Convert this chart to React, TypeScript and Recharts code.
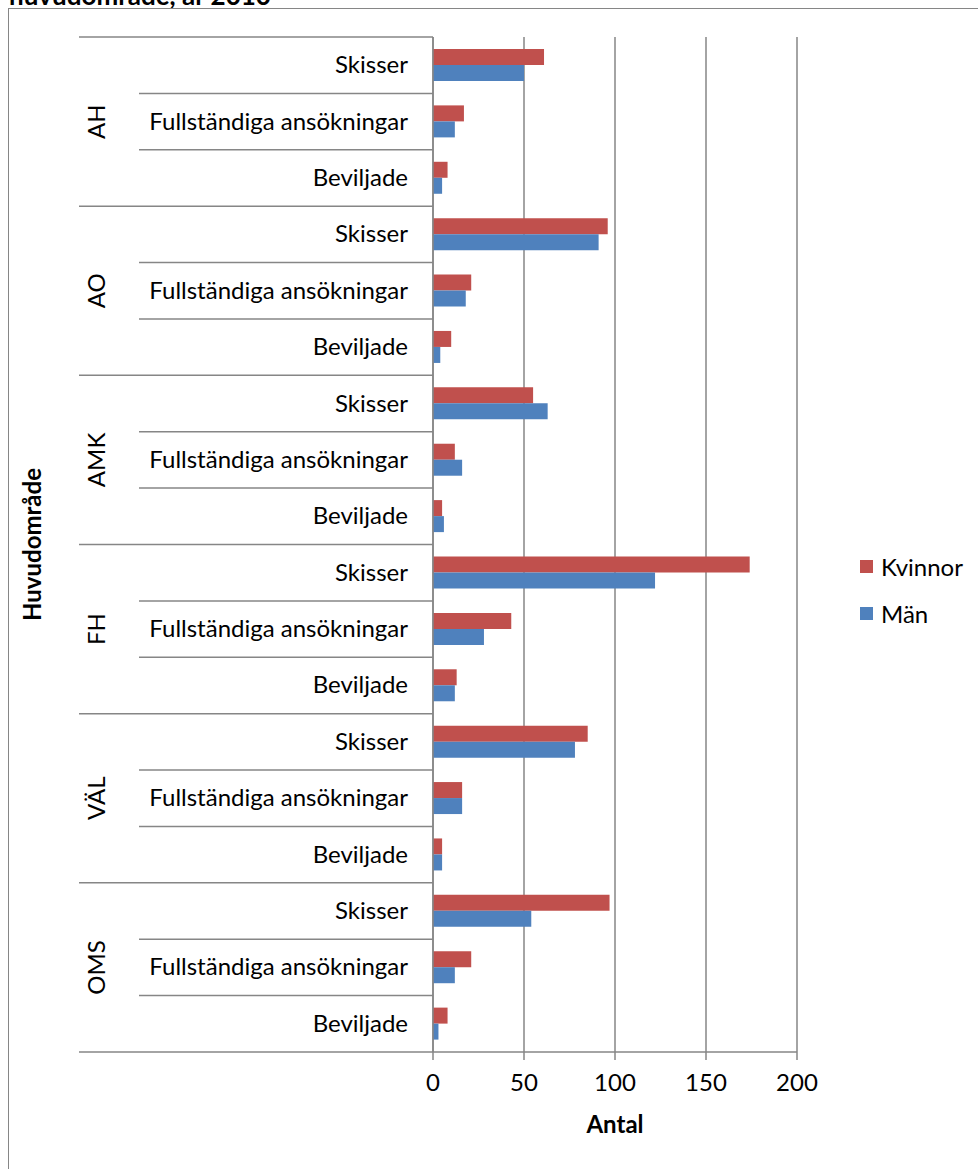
import { BarChart, Bar, XAxis, YAxis, CartesianGrid } from "recharts";

const areas = ["AH", "AO", "AMK", "FH", "VÄL", "OMS"];
const stages = ["Skisser", "Fullständiga ansökningar", "Beviljade"];
const kvinnor = [61, 17, 8, 96, 21, 10, 55, 12, 5, 174, 43, 13, 85, 16, 5, 97, 21, 8];
const man = [50, 12, 5, 91, 18, 4, 63, 16, 6, 122, 28, 12, 78, 16, 5, 54, 12, 3];
const xTicks = [0, 50, 100, 150, 200];

const data = areas.flatMap((area, a) =>
  stages.map((stage, s) => ({
    key: `${area}|${stage}`,
    area,
    stage,
    Kvinnor: kvinnor[a * 3 + s],
    Män: man[a * 3 + s],
  }))
);

const FONT = "Lato, 'Open Sans', sans-serif";
const FS = 24;
const GRAY = "#868686";
const RED = "#C0504D";
const BLUE = "#4F81BD";
const PLOT_LEFT = 433;

function CatTick(props: any) {
  const { y, payload, index } = props;
  const i = payload?.index ?? index;
  const half = payload?.offset || 28.2;
  const row = data[i];
  if (!row) return null;
  const first = i % 3 === 0;
  return (
    <g>
      <line x1={first ? 79 : 139} x2={PLOT_LEFT} y1={y - half} y2={y - half} stroke={GRAY} strokeWidth={1.5} />
      {i === data.length - 1 && (
        <line x1={79} x2={PLOT_LEFT} y1={y + half} y2={y + half} stroke={GRAY} strokeWidth={1.5} />
      )}
      <text x={408} y={y + 8} textAnchor="end" fontSize={FS} fontFamily={FONT} fill="#000">
        {row.stage}
      </text>
      {i % 3 === 1 && (
        <text
          x={97}
          y={y}
          transform={`rotate(-90 97 ${y})`}
          textAnchor="middle"
          dy={8}
          fontSize={FS}
          fontFamily={FONT}
          fill="#000"
        >
          {row.area}
        </text>
      )}
    </g>
  );
}

function NumTick(props: any) {
  const { x, payload } = props;
  return (
    <text x={x} y={1091} textAnchor="middle" fontSize={FS} fontFamily={FONT} fill="#000">
      {payload.value}
    </text>
  );
}

function LegendBox() {
  const items = [
    { name: "Kvinnor", color: RED },
    { name: "Män", color: BLUE },
  ];
  return (
    <div style={{ position: "absolute", left: 860, top: 543, fontFamily: FONT, fontSize: FS }}>
      {items.map((it) => (
        <div key={it.name} style={{ display: "flex", alignItems: "center", height: 47 }}>
          <div style={{ width: 13, height: 13, background: it.color, marginRight: 8 }} />
          <span>{it.name}</span>
        </div>
      ))}
    </div>
  );
}

export default function App() {
  return (
    <div style={{ position: "absolute", left: 0, top: 0, width: 978, height: 1169, overflow: "hidden", background: "#fff" }}>
      <div
        style={{
          position: "absolute",
          left: 9,
          top: -21,
          fontFamily: FONT,
          fontWeight: 700,
          fontSize: 26,
          whiteSpace: "nowrap",
        }}
      >
        huvudområde, år 2010
      </div>
      <div
        style={{
          position: "absolute",
          left: 8,
          top: 8,
          width: 975,
          height: 1170,
          border: `1px solid ${GRAY}`,
          boxSizing: "border-box",
        }}
      />
      <div style={{ position: "absolute", left: 0, top: 0 }}>
        <BarChart
          width={978}
          height={1169}
          data={data}
          layout="vertical"
          margin={{ top: 37, right: 181, bottom: 0, left: 0 }}
          barGap={0}
          barSize={16}
        >
          <CartesianGrid horizontal={false} stroke={GRAY} strokeWidth={1.5} strokeDasharray="" />
          <XAxis
            type="number"
            domain={[0, 200]}
            ticks={xTicks}
            height={117}
            tick={<NumTick />}
            tickSize={8}
            tickLine={{ stroke: GRAY, strokeWidth: 1.5 }}
            axisLine={{ stroke: GRAY, strokeWidth: 1.5 }}
            label={{
              value: "Antal",
              position: "insideTop",
              offset: 64,
              fontSize: FS,
              fontWeight: 700,
              fontFamily: FONT,
              fill: "#000",
            }}
          />
          <YAxis
            type="category"
            dataKey="key"
            width={433}
            interval={0}
            tick={<CatTick />}
            tickLine={false}
            axisLine={{ stroke: GRAY, strokeWidth: 1.5 }}
            label={{
              content: (p: any) => {
                const vb = p.viewBox || {};
                const cy = (vb.y ?? 37) + (vb.height ?? 1015) / 2;
                return (
                  <text
                    x={33}
                    y={cy}
                    transform={`rotate(-90 33 ${cy})`}
                    textAnchor="middle"
                    dy={8}
                    fontSize={FS}
                    fontWeight={700}
                    fontFamily={FONT}
                    fill="#000"
                  >
                    Huvudområde
                  </text>
                );
              },
            }}
          />
          <Bar dataKey="Kvinnor" fill={RED} isAnimationActive={false} />
          <Bar dataKey="Män" fill={BLUE} isAnimationActive={false} />
        </BarChart>
      </div>
      <LegendBox />
    </div>
  );
}
